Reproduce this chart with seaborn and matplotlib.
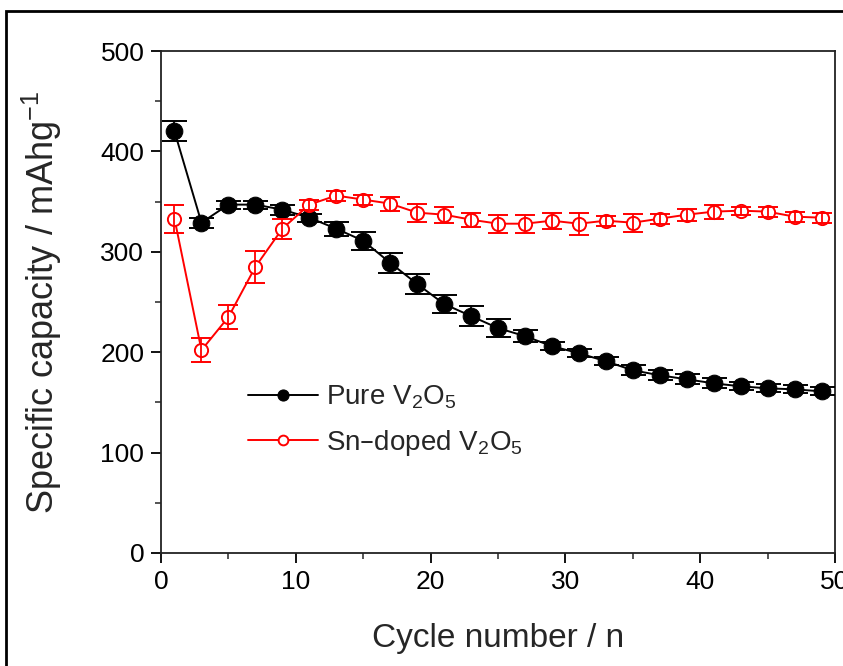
import numpy as np
import pandas as pd
import matplotlib
matplotlib.use("Agg")
import matplotlib.pyplot as plt
from matplotlib.ticker import MultipleLocator
from matplotlib.patches import Rectangle
import seaborn as sns

# cycle number vs specific capacity (mAh/g)
cycles = [1, 3, 5, 7, 9, 11, 13, 15, 17, 19, 21, 23, 25,
          27, 29, 31, 33, 35, 37, 39, 41, 43, 45, 47, 49]
pure_cap = [420, 329, 347, 347, 342, 334, 323, 311, 289, 268, 248, 236, 224,
            216, 206, 199, 191, 182, 177, 173, 169, 166, 164, 163, 161]
pure_err = [10, 5, 4, 4, 5, 4, 7, 9, 10, 10, 9, 10, 9,
            6, 4, 4, 4, 5, 5, 5, 5, 4, 4, 4, 4]
sn_cap = [333, 202, 235, 285, 323, 347, 356, 352, 348, 339, 337, 332, 328,
          328, 331, 328, 331, 329, 333, 337, 340, 341, 340, 335, 334]
sn_err = [14, 12, 12, 16, 10, 5, 5, 5, 7, 9, 8, 7, 9,
          9, 8, 11, 5, 9, 5, 6, 7, 4, 5, 5, 5]

labels = ["Pure V$_\\mathregular{2}$O$_\\mathregular{5}$",
          "Sn\u2013doped V$_\\mathregular{2}$O$_\\mathregular{5}$"]

sns.set_theme(style="ticks")
plt.rcParams["font.family"] = ["Liberation Sans", "DejaVu Sans"]
plt.rcParams["axes.linewidth"] = 1.3
plt.rcParams["xtick.major.width"] = 1.3
plt.rcParams["ytick.major.width"] = 1.3
plt.rcParams["xtick.minor.width"] = 1.1
plt.rcParams["ytick.minor.width"] = 1.1

df = pd.DataFrame({"cycle": cycles, "pure": pure_cap, "sn": sn_cap})

fig = plt.figure(figsize=(8.43, 6.66), dpi=100)
ax = fig.add_axes([0.191, 0.1697, 0.7995, 0.7537])

sns.lineplot(data=df, x="cycle", y="pure", ax=ax, color="black", lw=1.4,
             marker="o", markersize=12, markerfacecolor="black",
             markeredgecolor="black", label=labels[0], zorder=3)
ax.errorbar(cycles, pure_cap, yerr=pure_err, fmt="none", ecolor="black",
            elinewidth=1.3, capsize=9, capthick=1.4, zorder=3)

sns.lineplot(data=df, x="cycle", y="sn", ax=ax, color="red", lw=1.4,
             marker="o", markersize=9.5, markerfacecolor="white",
             markeredgecolor="red", markeredgewidth=1.4, label=labels[1], zorder=4)
ax.errorbar(cycles, sn_cap, yerr=sn_err, fmt="none", ecolor="red",
            elinewidth=1.3, capsize=7.5, capthick=1.4, zorder=4)

ax.set_xlim(0, 50)
ax.set_ylim(0, 500)
ax.xaxis.set_major_locator(MultipleLocator(10))
ax.xaxis.set_minor_locator(MultipleLocator(5))
ax.yaxis.set_major_locator(MultipleLocator(100))
ax.yaxis.set_minor_locator(MultipleLocator(50))
ax.tick_params(which="major", direction="out", length=7, pad=5,
               labelsize=19, colors="black")
ax.tick_params(which="minor", direction="out", length=4)

ax.set_xlabel("Cycle number / n", fontsize=24, labelpad=21)
ax.set_ylabel("Specific capacity / mAhg$^{\\mathregular{-1}}$", fontsize=26,
              labelpad=26)
for s in ax.spines.values():
    s.set_visible(True)
    s.set_color("#222222")

leg = ax.legend(loc="upper left", bbox_to_anchor=(0.113, 0.36), frameon=False,
                fontsize=20, handlelength=2.5, handletextpad=0.3,
                labelspacing=0.6, borderaxespad=0)
for h, ms in zip(leg.get_lines(), [8, 7]):
    h.set_markersize(ms)

# outer frame of the panel
fig.patches.append(Rectangle((6 / 843, -0.05), 1.2, 1 - 11 / 666 + 0.05,
                             transform=fig.transFigure, fill=False,
                             edgecolor="black", lw=2))

fig.savefig("out.png", dpi=100)
